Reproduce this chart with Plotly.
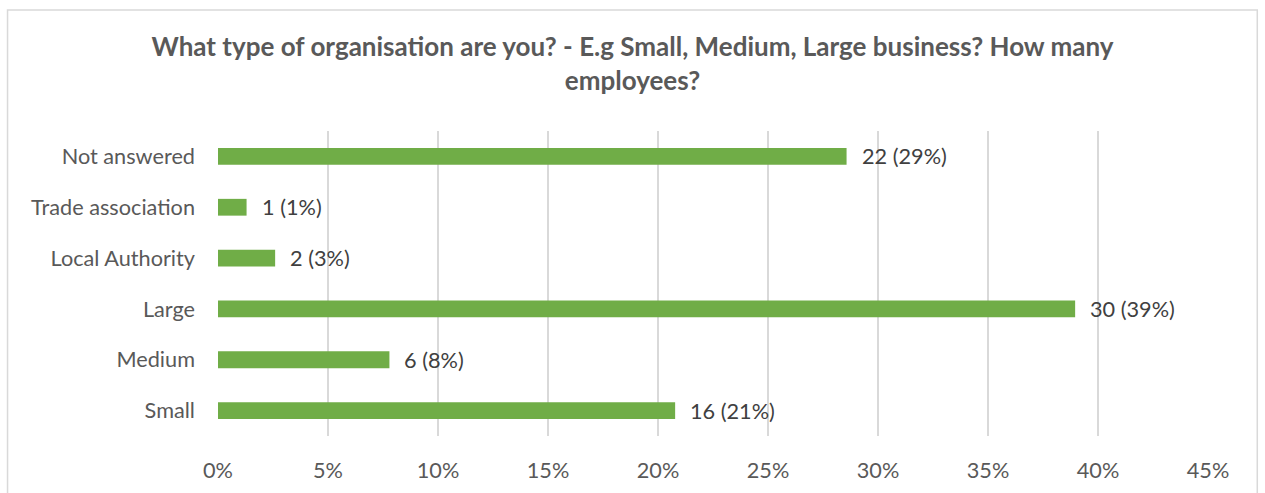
import plotly.graph_objects as go

# Survey responses, listed bottom to top as drawn
categories = ["Small", "Medium", "Large", "Local Authority", "Trade association", "Not answered"]
counts = [16, 6, 30, 2, 1, 22]
x_ticks = [0, 0.05, 0.10, 0.15, 0.20, 0.25, 0.30, 0.35, 0.40, 0.45]
x_tick_labels = ["0%", "5%", "10%", "15%", "20%", "25%", "30%", "35%", "40%", "45%"]

total = sum(counts)
shares = [c / total for c in counts]
labels = [f"{c} ({round(s * 100)}%)" for c, s in zip(counts, shares)]

W, H = 1265, 493
L, R, T, B = 217.5, 57.3, 130.5, 56.5
pw, ph = W - L - R, H - T - B

FONT = "Lato, 'Open Sans', sans-serif"
GREEN = "#70AD47"
GRID = "#D9D9D9"
LABEL_SIZE = 21.7

fig = go.Figure(
    go.Bar(
        x=shares,
        y=categories,
        orientation="h",
        marker=dict(color=GREEN, line=dict(width=0)),
        width=0.33,
        hoverinfo="skip",
    )
)

for cat, s, lab in zip(categories, shares, labels):
    fig.add_annotation(
        x=s, y=cat, text=lab, showarrow=False, xanchor="left", yanchor="middle",
        xshift=13, font=dict(family=FONT, size=LABEL_SIZE, color="#404040"),
    )

# chart frame
def px_to_paper_x(px):
    return (px - L) / pw

def px_to_paper_y(py):
    return (H - B - py) / ph

fig.add_shape(
    type="rect", xref="paper", yref="paper",
    x0=px_to_paper_x(7), x1=px_to_paper_x(1257),
    y0=px_to_paper_y(520), y1=px_to_paper_y(9),
    line=dict(color=GRID, width=1.5), fillcolor="rgba(0,0,0,0)", layer="below",
)

fig.update_layout(
    width=W, height=H,
    margin=dict(l=L, r=R, t=T, b=B, autoexpand=False),
    paper_bgcolor="white", plot_bgcolor="white",
    showlegend=False,
    title=dict(
        text="What type of organisation are you? - E.g Small, Medium, Large business? How many<br>employees?",
        x=0.5, xref="container", xanchor="center",
        y=1 - 56 / H, yref="container", yanchor="middle",
        font=dict(family=FONT, size=26, color="#595959", weight="bold"),
    ),
    xaxis=dict(
        range=[0, 0.45], tickvals=x_ticks, ticktext=x_tick_labels,
        showgrid=True, gridcolor=GRID, gridwidth=1.5,
        zeroline=False, showline=False, ticks="",
        ticklabelstandoff=19,
        tickfont=dict(family=FONT, size=LABEL_SIZE, color="#595959"),
        fixedrange=True,
    ),
    yaxis=dict(
        categoryorder="array", categoryarray=categories,
        range=[-0.5, len(categories) - 0.5],
        showgrid=False, zeroline=False, showline=False, ticks="",
        ticklabelstandoff=22,
        tickfont=dict(family=FONT, size=LABEL_SIZE, color="#595959"),
        fixedrange=True,
    ),
)

fig.write_html("out.html")
